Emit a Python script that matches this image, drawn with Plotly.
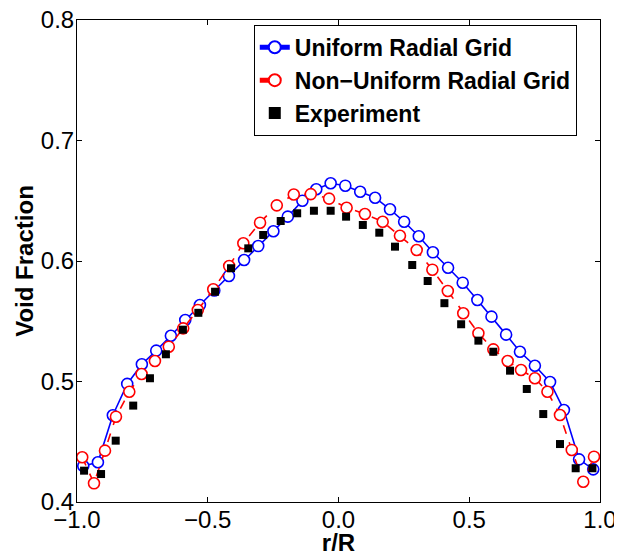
import plotly.graph_objects as go

# Uniform radial grid (blue)
uni_x = [-0.976, -0.920, -0.863, -0.808, -0.752, -0.697, -0.641, -0.586, -0.530, -0.475,
         -0.419, -0.361, -0.307, -0.249, -0.194, -0.138, -0.085, -0.030, 0.026, 0.083,
         0.140, 0.197, 0.251, 0.307, 0.361, 0.419, 0.475, 0.531, 0.585, 0.641,
         0.694, 0.751, 0.809, 0.862, 0.920, 0.974]
uni_y = [0.4299, 0.4330, 0.4720, 0.4980, 0.5143, 0.5256, 0.5380, 0.5510, 0.5635, 0.5755,
         0.5876, 0.6008, 0.6124, 0.6247, 0.6368, 0.6500, 0.6595, 0.6645, 0.6625, 0.6575,
         0.6525, 0.6429, 0.6326, 0.6205, 0.6072, 0.5944, 0.5820, 0.5676, 0.5538, 0.5389,
         0.5247, 0.5131, 0.4996, 0.4763, 0.4354, 0.4271]

# Non-uniform radial grid (red)
non_x = [-0.980, -0.935, -0.893, -0.851, -0.800, -0.753, -0.702, -0.649, -0.594, -0.538,
         -0.479, -0.418, -0.364, -0.300, -0.236, -0.171, -0.106, -0.036, 0.031, 0.101,
         0.169, 0.235, 0.299, 0.359, 0.418, 0.477, 0.535, 0.592, 0.647, 0.698,
         0.751, 0.799, 0.847, 0.892, 0.936, 0.977]
non_y = [0.4371, 0.4155, 0.4426, 0.4708, 0.4915, 0.5062, 0.5170, 0.5289, 0.5441, 0.5593,
         0.5765, 0.5958, 0.6147, 0.6318, 0.6462, 0.6552, 0.6555, 0.6518, 0.6442, 0.6390,
         0.6326, 0.6210, 0.6091, 0.5928, 0.5751, 0.5566, 0.5400, 0.5267, 0.5170, 0.5095,
         0.5027, 0.4915, 0.4722, 0.4432, 0.4168, 0.4376]

# Experiment (black squares)
exp_x = [-0.973, -0.908, -0.852, -0.785, -0.721, -0.660, -0.595, -0.536, -0.472, -0.411,
         -0.345, -0.288, -0.221, -0.158, -0.094, -0.030, 0.029, 0.093, 0.156, 0.216,
         0.282, 0.341, 0.405, 0.469, 0.535, 0.592, 0.656, 0.720, 0.783, 0.847,
         0.907, 0.971]
exp_y = [0.4260, 0.4232, 0.4509, 0.4800, 0.5027, 0.5226, 0.5430, 0.5570, 0.5745, 0.5940,
         0.6105, 0.6216, 0.6332, 0.6396, 0.6417, 0.6417, 0.6368, 0.6299, 0.6235, 0.6119,
         0.5967, 0.5834, 0.5650, 0.5475, 0.5339, 0.5247, 0.5090, 0.4938, 0.4730, 0.4481,
         0.4280, 0.4280]

x_ticks = [-1.0, -0.5, 0.0, 0.5, 1.0]
y_ticks = [0.4, 0.5, 0.6, 0.7, 0.8]

FONT = "Liberation Sans, Arial, sans-serif"

fig = go.Figure()
fig.add_trace(go.Scatter(
    x=uni_x, y=uni_y, mode="lines+markers", name="Uniform Radial Grid",
    line=dict(color="#0000ff", width=1.6),
    marker=dict(symbol="circle", size=11, color="white",
                line=dict(color="#0000ff", width=1.6)),
))
fig.add_trace(go.Scatter(
    x=non_x, y=non_y, mode="lines+markers", name="Non\u2212Uniform Radial Grid",
    line=dict(color="#ff0000", width=1.6, dash="dash"),
    marker=dict(symbol="circle", size=11, color="white",
                line=dict(color="#ff0000", width=1.6)),
))
fig.add_trace(go.Scatter(
    x=exp_x, y=exp_y, mode="markers", name="Experiment",
    marker=dict(symbol="square", size=8, color="black"),
))

fig.update_layout(
    width=614, height=548,
    margin=dict(l=69, r=22, t=12, b=54, autoexpand=False),
    paper_bgcolor="white", plot_bgcolor="white",
    font=dict(family=FONT, size=24, color="black"),
    showlegend=True,
    legend=dict(
        x=0.338, y=0.99, xanchor="left", yanchor="top",
        bgcolor="white", bordercolor="black", borderwidth=1,
        font=dict(family=FONT, size=23, color="black", weight="bold"),
        tracegroupgap=0, itemsizing="constant",
    ),
)
fig.update_xaxes(
    range=[-1, 1], tickvals=x_ticks, tickformat=".1f", automargin=False,
    showline=True, linecolor="black", linewidth=1, mirror="ticks",
    ticks="inside", ticklen=5, tickcolor="black", showgrid=False, zeroline=False,
    tickfont=dict(family=FONT, size=24), ticklabelstandoff=-4, ticklabeloverflow="allow",
    title=dict(text="r/R", font=dict(family=FONT, size=24, weight="bold"), standoff=0),
)
fig.update_yaxes(
    range=[0.4, 0.8], tickvals=y_ticks, tickformat=".1f", automargin=False,
    showline=True, linecolor="black", linewidth=1, mirror="ticks",
    ticks="inside", ticklen=5, tickcolor="black", showgrid=False, zeroline=False,
    tickfont=dict(family=FONT, size=24), ticklabelstandoff=-3, ticklabeloverflow="allow",
    title=dict(text="Void Fraction", font=dict(family=FONT, size=24, weight="bold"), standoff=0),
)

fig.write_html("out.html")
